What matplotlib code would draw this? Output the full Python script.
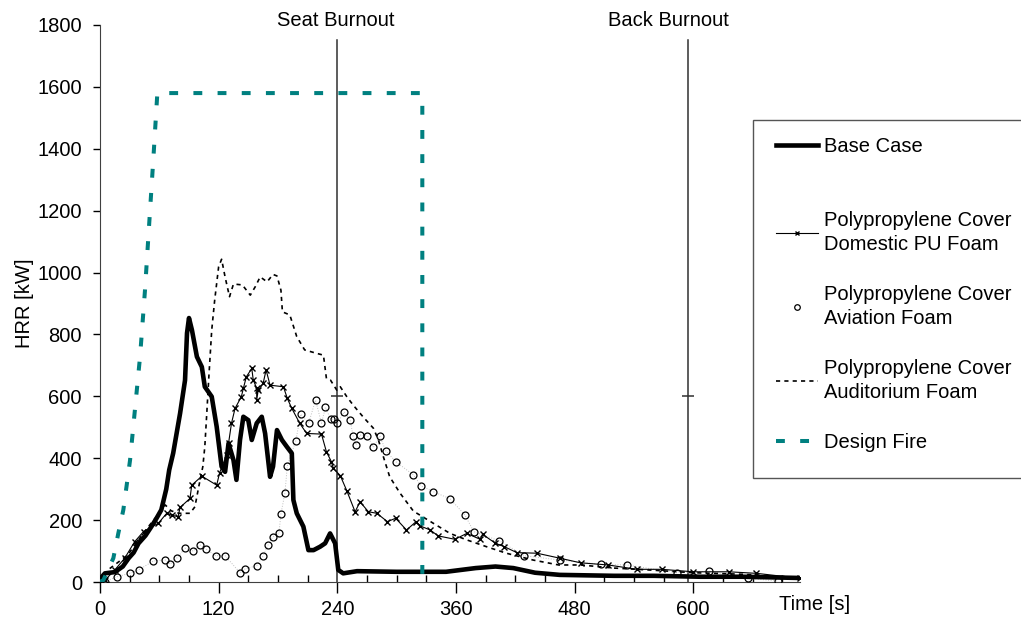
import matplotlib.pyplot as plt
from matplotlib.patches import Rectangle
from matplotlib.ticker import MultipleLocator

plt.rcParams["font.family"] = ["Liberation Sans", "DejaVu Sans"]
plt.rcParams["font.size"] = 14.5

# ---- data (time in s, HRR in kW)
base_t = [0, 2, 5, 15, 23, 29, 34, 39, 46, 52, 57, 62, 67, 70, 74, 81, 86, 88, 90, 93,
          98, 103, 106, 113, 118, 123, 126.5, 130, 135, 138, 141.6, 145, 150, 153.5,
          158.5, 163.6, 167, 172, 175, 179, 184, 189, 194, 195.6, 199, 205.7, 210.8,
          216, 222.6, 227.7, 232.7, 237.8, 241, 246, 260, 300, 350, 380, 400, 418, 440,
          465, 520, 560, 607, 650, 708]
base_hrr = [0, 17, 28, 32, 50, 77, 95, 125, 150, 179, 205, 233, 300, 362, 416, 545, 652,
            804, 853, 814, 728, 695, 631, 599, 502, 373, 356, 448, 394, 330, 459, 534, 523,
            459, 513, 534, 480, 340, 373, 491, 459, 437, 416, 265, 222, 179, 103, 103, 114,
            125, 157, 125, 39, 28, 35, 33, 33, 45, 50, 45, 30, 23, 20, 20, 17, 17, 13]

pu_t = [0, 5, 15, 25, 35, 44, 59, 67.5, 72.5, 79, 81, 91, 92.8, 103, 118, 121, 128, 130,
        133, 136.6, 143, 145, 148, 153.5, 155, 158.5, 158.5, 160, 165, 168, 172, 185.5,
        189.5, 194, 202, 209, 224, 229, 234, 236, 243, 249.6, 258, 263, 271.5, 280,
        290.7, 299, 310, 319.7, 324, 334, 342, 359, 371, 384.5, 387, 400, 409, 421.6,
        442, 465, 486, 514, 543, 568, 600, 636, 664, 708]
pu_hrr = [0, 6, 39, 77, 130, 163, 190, 222, 216, 211, 241, 270, 313, 342, 313, 353, 410,
          448, 513, 561, 599, 626, 663, 690, 653, 626, 588, 620, 642, 685, 636, 631, 593,
          561, 513, 480, 478, 421, 389, 367, 344, 295, 227, 259, 227, 222, 195, 206, 168,
          195, 181, 168, 149, 138, 157, 138, 154, 125, 114, 95, 93, 77, 62, 55, 41, 41,
          33, 33, 28, 12]

avi_t = [5, 17, 30, 39, 54, 66, 71, 77.6, 86, 94.4, 101, 107, 117, 126.5, 141.6, 146.7,
         158.5, 165, 170, 174.7, 181, 183, 187, 189.5, 198, 203, 211, 218, 224, 228,
         233.4, 237, 240, 247, 253, 256, 259, 263, 270.5, 276.5, 283, 289, 299.5, 317,
         325, 337, 354, 369, 378, 404, 429, 465, 506.6, 533, 583.5, 615.5, 655, 686]
avi_hrr = [1, 17, 28, 39, 68, 71, 58, 77, 109, 100, 120, 107, 85, 85, 30, 42, 53, 84,
           120, 146, 157, 220, 287, 376, 456, 542, 513, 588, 513, 564, 526, 526, 513, 550,
           523, 472, 443, 475, 472, 435, 472, 424, 388, 346, 310, 292, 269, 217, 163, 133,
           85, 71, 57, 55, 30, 35, 12, 3]

aud_t = [0, 8, 28, 45, 57, 66, 72, 80, 91, 96, 100, 104, 106, 108, 110, 113, 116, 120,
         123, 126.5, 131, 135, 144, 152, 157, 162, 169, 175, 179, 183, 184.5, 192, 199,
         207, 219, 226, 229, 233, 239.5, 243, 249.6, 256, 266, 276.5, 281.6, 286.6, 293,
         303.5, 317, 337, 354, 371, 391, 411, 438, 464, 486, 520, 560, 600, 650, 705]
aud_hrr = [0, 39, 87, 163, 211, 249, 230, 222, 222, 243, 310, 373, 437, 545, 658, 814,
           911, 1019, 1043, 986, 922, 963, 960, 927, 954, 986, 970, 994, 989, 943, 873,
           863, 793, 750, 739, 733, 658, 653, 620, 631, 599, 572, 534, 497, 459, 405, 340,
           287, 229, 190, 157, 136, 114, 93, 71, 55, 55, 45, 38, 30, 25, 15]

design_t = [0, 3.4, 13.5, 18.5, 23.6, 27, 30.4, 40.5, 45.5, 50, 54, 58, 326, 326]
design_hrr = [0, 6, 77, 157, 233, 313, 394, 728, 943, 1170, 1370, 1580, 1580, 0]

burnout_t = [240, 595]
burnout_labels = ["Seat Burnout", "Back Burnout"]
burnout_label_t = [238, 575]
burnout_top = 1750
burnout_mark = 600

legend_labels = ["Base Case", "Polypropylene Cover\nDomestic PU Foam",
                 "Polypropylene Cover\nAviation Foam",
                 "Polypropylene Cover\nAuditorium Foam", "Design Fire"]

TEAL = "#008080"
W, H = 1021, 626


def main():
    fig = plt.figure(figsize=(W / 100, H / 100), dpi=100)
    ax = fig.add_axes([100 / W, 44 / H, 700 / W, 557 / H])

    base_line, = ax.plot(base_t, base_hrr, color="black", lw=3.3,
                         solid_joinstyle="round", zorder=5)
    ax.plot(pu_t, pu_hrr, color="black", lw=0.8, marker="x", ms=4.5, mew=1.0, zorder=4)
    ax.plot(avi_t, avi_hrr, color="#c0c0c0", lw=0.7, ls=":", marker="o", ms=5,
            mfc="none", mec="black", mew=0.9, zorder=3)
    aud_line, = ax.plot(aud_t, aud_hrr, color="black", lw=1.2, ls=(0, (2.5, 2.5)),
                        zorder=3)
    design_line, = ax.plot(design_t, design_hrr, color=TEAL, lw=2.9,
                           ls=(0, (2.2, 3.8)), dash_capstyle="butt", zorder=6)

    # burnout markers
    for t, lab, lt in zip(burnout_t, burnout_labels, burnout_label_t):
        ax.plot([t, t], [0, burnout_top], color="#303030", lw=1.1, zorder=2)
        ax.plot([t], [burnout_mark], marker="_", ms=8, mew=1.1, color="#303030")
        ax.text(lt, 1.0075, lab, transform=ax.get_xaxis_transform(),
                ha="center", va="center")

    ax.set_xlim(0, 708)
    ax.set_ylim(0, 1800)
    ax.xaxis.set_major_locator(MultipleLocator(120))
    ax.xaxis.set_minor_locator(MultipleLocator(30))
    ax.yaxis.set_major_locator(MultipleLocator(200))
    ax.tick_params(axis="x", which="major", direction="out", length=8, width=1, pad=5)
    ax.tick_params(axis="x", which="minor", direction="in", length=5, width=1)
    ax.tick_params(axis="y", which="major", direction="out", length=5, width=1, pad=8)
    ax.spines["top"].set_visible(False)
    ax.spines["right"].set_visible(False)
    for s in ("left", "bottom"):
        ax.spines[s].set_color("#404040")

    fig.text(25 / W, 1 - 303 / H, "HRR [kW]", rotation=90, ha="center", va="center")
    fig.text(815 / W, 1 - 605 / H, "Time [s]", ha="center", va="center")

    # ---- legend: frame drawn separately, base case spaced apart like the original
    fig.patches.append(Rectangle((753 / W, 1 - 478 / H), 300 / W, 358 / H,
                                 transform=fig.transFigure, facecolor="white",
                                 edgecolor="#555555", lw=1.0, zorder=1))

    pu_handle = plt.Line2D([], [], color="black", lw=0.8, marker="x", ms=3, mew=1)
    avi_handle = plt.Line2D([], [], ls="none", marker="o", ms=4, mfc="none",
                            mec="black", mew=0.9)
    opts = dict(frameon=False, borderaxespad=0, borderpad=0, handlelength=2.1,
                handletextpad=0.3)
    leg1 = fig.legend([base_line], legend_labels[:1], loc="center left",
                      bbox_to_anchor=(776 / W, 1 - 147 / H), **opts)
    leg2 = fig.legend([pu_handle, avi_handle, aud_line, design_line],
                      legend_labels[1:], loc="upper left",
                      bbox_to_anchor=(776 / W, 1 - 211 / H), labelspacing=1.55, **opts)
    for leg in (leg1, leg2):
        for t in leg.get_texts():
            t.set_linespacing(1.33)

    fig.savefig("out.png", dpi=100)
    plt.close(fig)


if __name__ == "__main__":
    main()
